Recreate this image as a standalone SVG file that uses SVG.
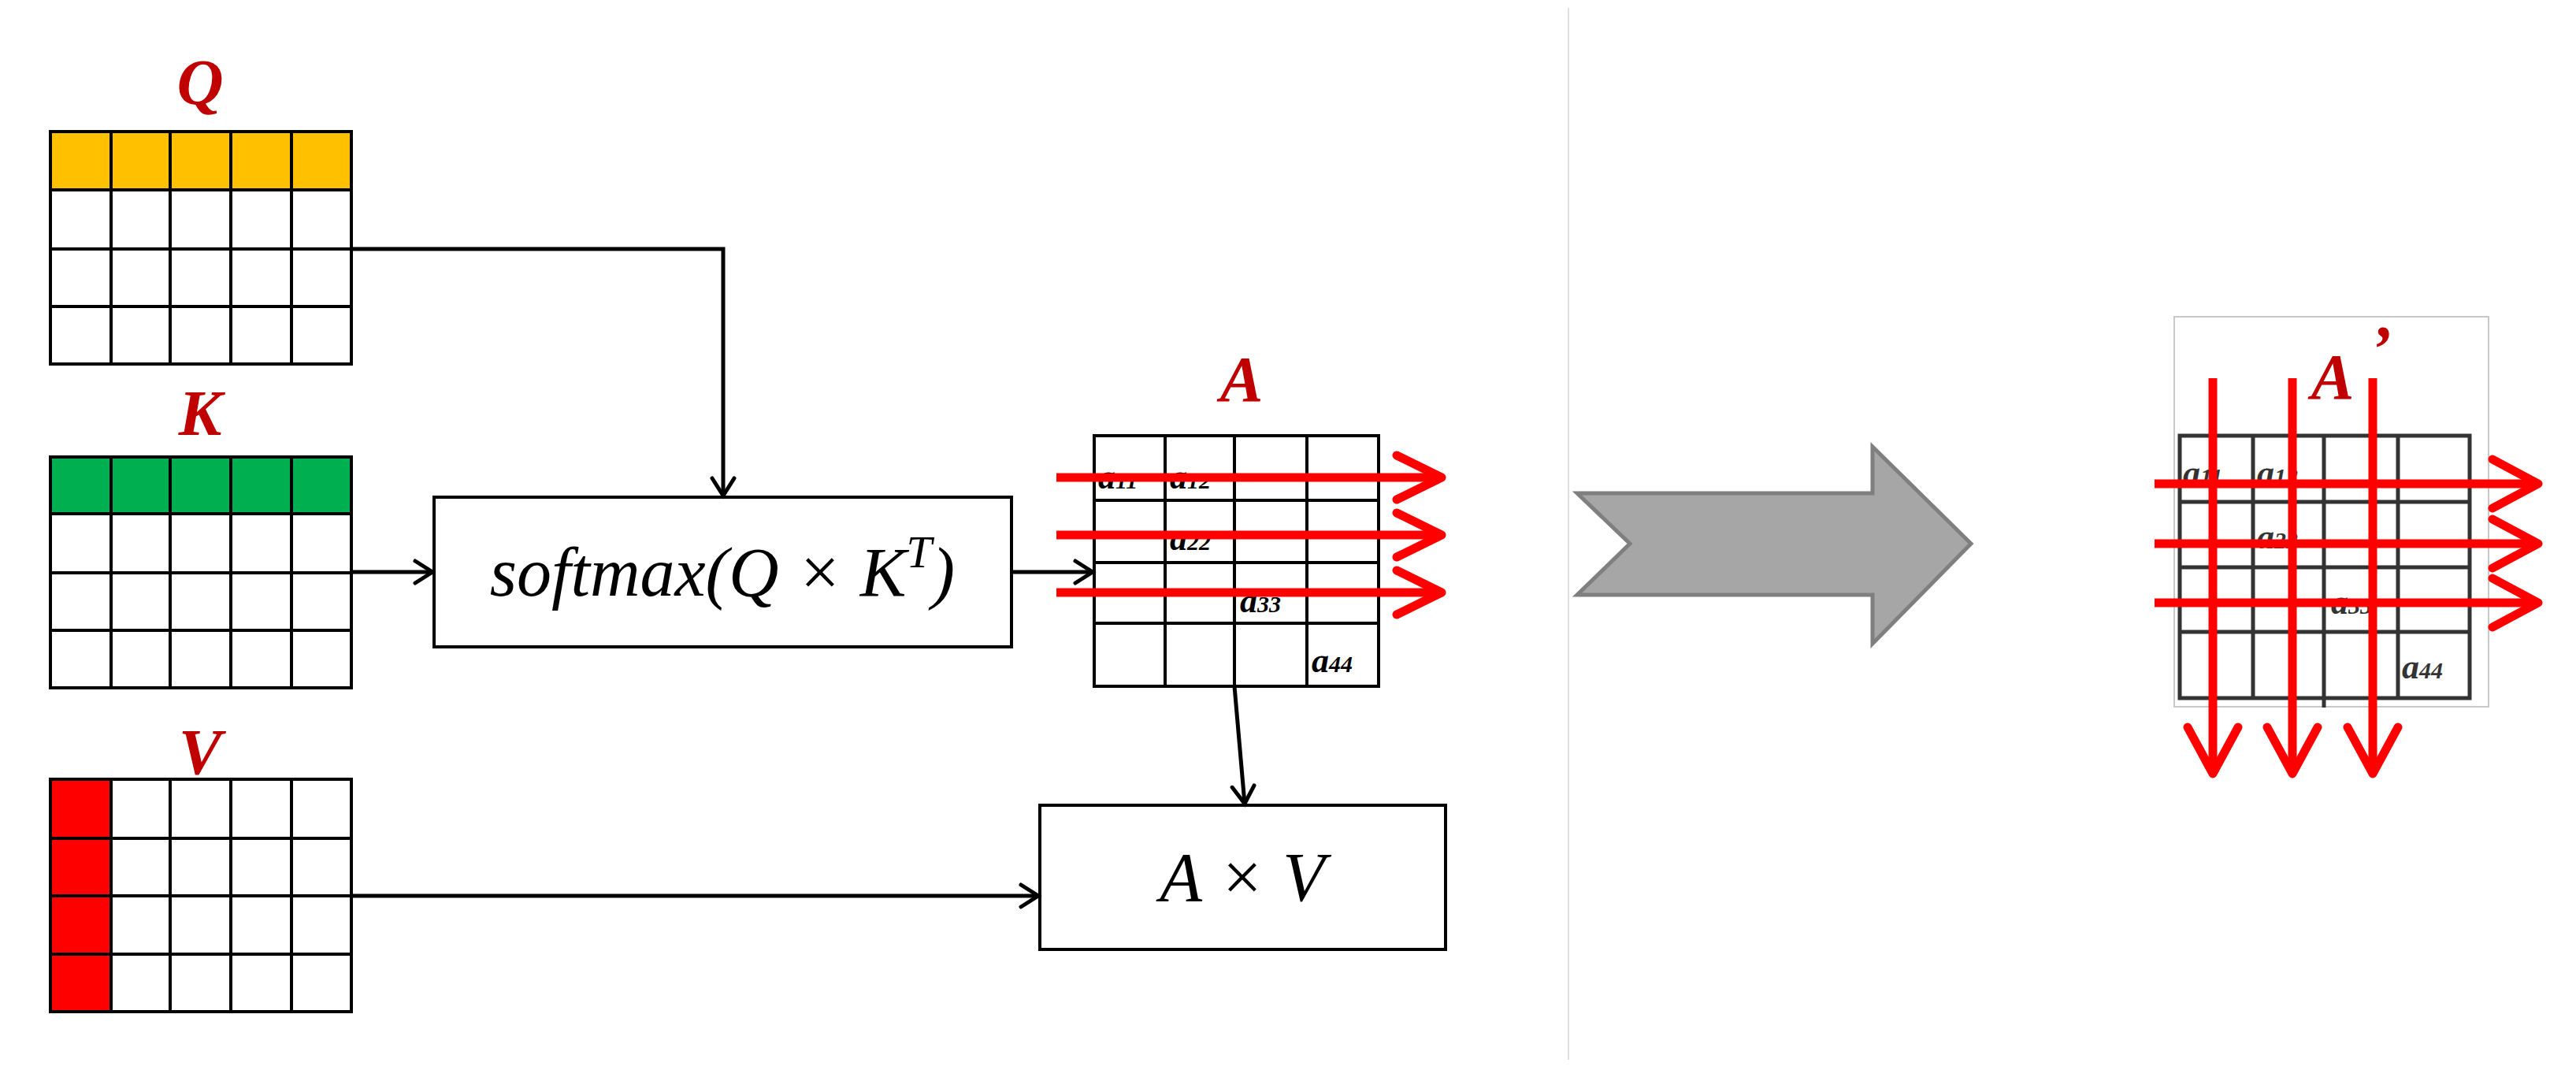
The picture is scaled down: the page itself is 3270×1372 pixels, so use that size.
<svg xmlns="http://www.w3.org/2000/svg" width="3270" height="1372" viewBox="0 0 3270 1372">
<style>
.g{fill:none;stroke:#000;stroke-width:4}
.cell{fill:#fff;stroke:#000;stroke-width:4}
.lbl{font-family:"Liberation Serif",serif;font-style:italic;font-weight:bold;fill:#c00000;font-size:82px;text-anchor:middle}
.math{font-family:"Liberation Serif",serif;font-style:italic;font-size:88px;text-anchor:middle}
.a{font-family:"Liberation Serif",serif;font-style:italic;font-weight:bold;font-size:44px}
.sub{font-size:30px}
.conn{fill:none;stroke:#000;stroke-width:5}
.red{fill:none;stroke:#ff0000;stroke-width:11;stroke-linecap:round;stroke-linejoin:round}
.redl{fill:none;stroke:#ff0000;stroke-width:11}
</style>
<defs>
<marker id="ah" markerUnits="userSpaceOnUse" markerWidth="40" markerHeight="40" refX="30" refY="20" orient="auto">
<path d="M8,6 L30,20 L8,34" fill="none" stroke="#000" stroke-width="5" stroke-linecap="round"/>
</marker>
</defs>
<rect width="3270" height="1372" fill="#fff"/>
<line x1="1991" y1="10" x2="1991" y2="1345" stroke="#e0e0e0" stroke-width="2"/>

<g id="Q">
<text class="lbl" x="254" y="132">Q</text>
<rect x="64" y="167" width="382" height="74" fill="#ffc000"/>
<path class="g" d="M64,167H446V462H64Z M64,241H446 M64,316H446 M64,389H446 M141,167V462 M216,167V462 M293,167V462 M370,167V462"/>
</g>
<g id="K">
<text class="lbl" x="254" y="552">K</text>
<rect x="64" y="580" width="382" height="72" fill="#00b050"/>
<path class="g" d="M64,580H446V873H64Z M64,652H446 M64,727H446 M64,800H446 M141,580V873 M216,580V873 M293,580V873 M370,580V873"/>
</g>
<g id="V">
<text class="lbl" x="254" y="982">V</text>
<rect x="64" y="989" width="77" height="295" fill="#ff0000"/>
<path class="g" d="M64,989H446V1284H64Z M64,1064H446 M64,1137H446 M64,1211H446 M141,989V1284 M216,989V1284 M293,989V1284 M370,989V1284"/>
</g>
<g id="softmax">
<rect class="cell" x="551" y="631" width="733" height="190"/>
<text class="math" x="917" y="756">softmax(Q × K<tspan font-size="58" dy="-36">T</tspan><tspan dy="36">)</tspan></text>
</g>
<g id="A">
<text class="lbl" x="1576" y="509">A</text>
<path class="g" d="M1389,553H1750V871H1389Z M1389,635H1750 M1389,714H1750 M1389,791H1750 M1479,553V871 M1567,553V871 M1659,553V871"/>
<text class="a" x="1394" y="620">a<tspan class="sub">11</tspan></text>
<text class="a" x="1485" y="620">a<tspan class="sub">12</tspan></text>
<text class="a" x="1485" y="698">a<tspan class="sub">22</tspan></text>
<text class="a" x="1574" y="777">a<tspan class="sub">33</tspan></text>
<text class="a" x="1665" y="853">a<tspan class="sub">44</tspan></text>
</g>
<g id="AxV">
<rect class="cell" x="1320" y="1022" width="515" height="183"/>
<text class="math" x="1577" y="1143">A × V</text>
</g>
<g id="connectors">
<path class="conn" d="M446,316H918V629" marker-end="url(#ah)"/>
<path class="conn" d="M446,726H549" marker-end="url(#ah)"/>
<path class="conn" d="M1286,726H1387" marker-end="url(#ah)"/>
<path class="conn" d="M446,1137H1318" marker-end="url(#ah)"/>
<path class="conn" d="M1567,871L1580,1020" marker-end="url(#ah)"/>
</g>
<g id="rowArrowsA">
<path class="redl" d="M1341,606H1826 M1341,679H1826 M1341,752H1826"/>
<path class="red" d="M1773,578L1830,606L1773,634 M1773,651L1830,679L1773,707 M1773,724L1830,752L1773,780"/>
</g>
<g id="bigArrow">
<path d="M2002,626L2069,690L2002,755H2377V817L2502,690L2377,567V626Z" fill="#a6a6a6" stroke="#7f7f7f" stroke-width="5"/>
</g>
<g id="Aprime">
<rect x="2760" y="402" width="399" height="495" fill="#fff" stroke="#c8c8c8" stroke-width="2"/>
<text class="lbl" x="2961" y="506">A</text>
<text class="lbl" x="3022" y="470">’</text>
<path d="M2767,553H3135V886H2767Z M2767,637H3135 M2767,720H3135 M2767,802H3135 M2860,553V886 M2950,553V886 M3044,553V886 M2950,886V898" fill="none" stroke="#333" stroke-width="5"/>
<text class="a" x="2771" y="615" fill="#333">a<tspan class="sub">11</tspan></text>
<text class="a" x="2865" y="615" fill="#333">a<tspan class="sub">12</tspan></text>
<text class="a" x="2865" y="696" fill="#333">a<tspan class="sub">22</tspan></text>
<text class="a" x="2959" y="779" fill="#333">a<tspan class="sub">33</tspan></text>
<text class="a" x="3049" y="861" fill="#333">a<tspan class="sub">44</tspan></text>
<path class="redl" d="M2735,614H3218 M2735,690H3218 M2735,765H3218 M2809,480V978 M2910,480V978 M3012,480V978"/>
<path class="red" d="M3164,583L3222,614L3164,645 M3164,659L3222,690L3164,721 M3164,734L3222,765L3164,796 M2777,923L2809,982L2841,923 M2878,923L2910,982L2942,923 M2980,923L3012,982L3044,923"/>
</g>
</svg>
